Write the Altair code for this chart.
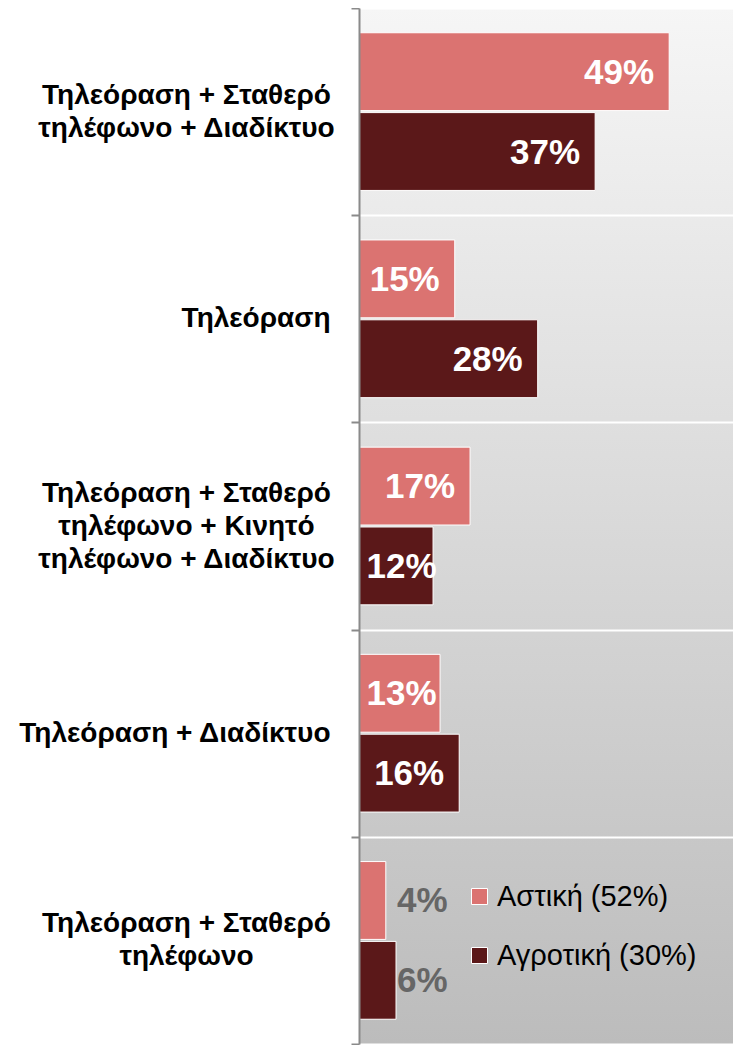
import altair as alt
import pandas as pd

categories = [
    "Τηλεόραση + Σταθερό\nτηλέφωνο + Διαδίκτυο",
    "Τηλεόραση",
    "Τηλεόραση + Σταθερό\nτηλέφωνο + Κινητό\nτηλέφωνο + Διαδίκτυο",
    "Τηλεόραση + Διαδίκτυο",
    "Τηλεόραση + Σταθερό\nτηλέφωνο",
]
series = ["Αστική (52%)", "Αγροτική (30%)"]
urban = [48.6, 15.0, 17.4, 12.7, 4.2]
rural = [37.0, 28.0, 11.6, 15.7, 5.8]
colors = ["#DB7371", "#5B1819"]

rows = []
for c, u, r in zip(categories, urban, rural):
    rows.append({"cat": c, "series": series[0], "v": u, "label": f"{round(u)}%"})
    rows.append({"cat": c, "series": series[1], "v": r, "label": f"{round(r)}%"})
df = pd.DataFrame(rows)

W = 374
H = 1036
LH = 33
nlines = "(datum.value ? length(split(datum.value, '\\n')) : 1)"

xscale = alt.Scale(domain=[0, 58.6], nice=False, zero=True)
yenc = alt.Y(
    "cat:N",
    sort=categories,
    scale=alt.Scale(paddingInner=0, paddingOuter=0),
    axis=alt.Axis(
        title=None,
        labelExpr="datum.value ? split(datum.value, '\\n') : ''",
        labelFont="Liberation Sans",
        labelFontSize=28,
        labelFontWeight="bold",
        labelColor="black",
        labelLineHeight=LH,
        labelAlign={
            "condition": {"test": f"{nlines} > 1", "value": "center"},
            "value": "right",
        },
        labelPadding={
            "condition": {"test": f"{nlines} > 1", "value": 165},
            "value": 21,
        },
        labelOffset={
            "condition": [
                {"test": f"{nlines} == 3", "value": -LH},
                {"test": f"{nlines} == 2", "value": -LH / 2},
            ],
            "value": 0,
        },
        labelLimit=0,
        labelOverlap=False,
        tickBand="extent",
        tickSize=8,
        tickColor="#8a8a8a",
        tickWidth=2,
        domainColor="#8a8a8a",
        domainWidth=2,
        grid=True,
        gridColor="white",
        gridWidth=2,
        zindex=1,
    ),
)
yoff = alt.YOffset(
    "series:N",
    sort=series,
    scale=alt.Scale(domain=series, paddingInner=0.025, paddingOuter=0.31),
)

gradient = alt.LinearGradient(
    gradient="linear",
    stops=[
        alt.GradientStop(color="#f6f6f6", offset=0),
        alt.GradientStop(color="#bcbcbc", offset=1),
    ],
    x1=0, x2=0, y1=0, y2=1,
)
bg = alt.Chart(pd.DataFrame({"a": [0]})).mark_rect(color=gradient).encode(
    x=alt.value(0), x2=alt.value(W), y=alt.value(0), y2=alt.value(H)
)

base = alt.Chart(df)

bars = base.mark_bar(stroke="white", strokeWidth=1).encode(
    y=yenc,
    yOffset=yoff,
    x=alt.X("v:Q", scale=xscale, axis=None),
    color=alt.Color(
        "series:N",
        sort=series,
        scale=alt.Scale(domain=series, range=colors),
        legend=alt.Legend(
            title=None,
            orient="none",
            legendX=106,
            legendY=874,
            symbolType="square",
            symbolSize=256,
            symbolStrokeColor="white",
            symbolStrokeWidth=1,
            symbolOpacity=1,
            labelFont="Liberation Sans",
            labelFontSize=29,
            labelColor="black",
            labelOffset=3,
            labelLimit=0,
            rowPadding=29,
        ),
    ),
)

inside = base.transform_filter("datum.v >= 10").transform_calculate(
    lx="max(datum.v, 14.5)"
).mark_text(
    align="right", baseline="middle", dx=-15, dy=1,
    font="Liberation Sans", fontSize=35, fontWeight="bold", color="white",
).encode(
    y=yenc, yOffset=yoff,
    x=alt.X("lx:Q", scale=xscale, axis=None),
    text="label:N",
)

outside = base.transform_filter("datum.v < 10").transform_joinaggregate(
    mx="max(v)", groupby=["cat"]
).mark_text(
    align="left", baseline="middle", dx=1, dy=1,
    font="Liberation Sans", fontSize=35, fontWeight="bold", color="#666666",
).encode(
    y=yenc, yOffset=yoff,
    x=alt.X("mx:Q", scale=xscale, axis=None),
    text="label:N",
)

chart = alt.layer(bg, bars, inside, outside).properties(
    width=W,
    height=H,
    autosize=alt.AutoSizeParams(type="none"),
    padding={"left": 351, "top": 0, "right": 0, "bottom": 1},
).configure_view(stroke=None)

chart.save("out.html", embed_options={"renderer": "svg", "actions": False})
